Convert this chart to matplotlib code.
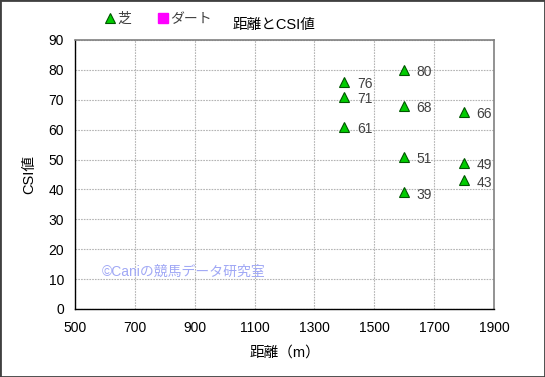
import matplotlib
matplotlib.use("Agg")
import matplotlib.pyplot as plt
from matplotlib.patches import Rectangle

plt.rcParams['font.family'] = ['Liberation Sans', 'Noto Sans CJK JP', 'DejaVu Sans']

turf_dist = [1400, 1400, 1400, 1600, 1600, 1600, 1600, 1800, 1800, 1800]
turf_csi = [76, 71, 61, 80, 68, 51, 39, 66, 49, 43]
dirt_dist = []
dirt_csi = []
xticks = [500, 700, 900, 1100, 1300, 1500, 1700, 1900]
yticks = list(range(0, 91, 10))

W, H = 545, 377
fig = plt.figure(figsize=(W / 100, H / 100), dpi=100)
l, r, t, b = 75, 494, 40, 309
ax = fig.add_axes([l / W, 1 - b / H, (r - l) / W, (b - t) / H])

ax.plot(turf_dist, turf_csi, linestyle='none', marker='^', markersize=7.5,
        markerfacecolor='#00cc00', markeredgecolor='#005500', markeredgewidth=0.8,
        label='芝', zorder=3)
ax.plot(dirt_dist, dirt_csi, linestyle='none', marker='s', markersize=7,
        markerfacecolor='#ff00ff', markeredgecolor='#ff00ff', label='ダート')

for x, y in zip(turf_dist, turf_csi):
    ax.annotate(str(y), (x, y), xytext=(9, -1.5), textcoords='offset points',
                va='center', ha='left', fontsize=10, color='#404040')

ax.set_xlim(500, 1900)
ax.set_ylim(0, 90)
ax.set_xticks(xticks)
ax.set_yticks(yticks)
ax.tick_params(length=0, labelsize=10, pad=8)
ax.tick_params(axis='x', pad=9)
ax.grid(True, color='#b4b4b4', linestyle=(0, (1.5, 1)), linewidth=0.8)
ax.set_axisbelow(True)
for s in ['left', 'bottom']:
    ax.spines[s].set_color('black')
    ax.spines[s].set_linewidth(1.0)
for s in ['top', 'right']:
    ax.spines[s].set_color('#808080')
    ax.spines[s].set_linewidth(1.2)

ax.set_xlabel('距離（m）', fontsize=10.5, labelpad=7)
ax.set_ylabel('CSI値', fontsize=10.5, labelpad=9)
fig.text(274 / W, 1 - 25 / H, '距離とCSI値', ha='center', va='center', fontsize=10.5)

ax.text(590, 12.4, '©Caniの競馬データ研究室', transform=ax.transData,
        fontsize=10, color='#a0a8f5', ha='left', va='center')

fig.legend(loc='center left', bbox_to_anchor=(92 / W, 1 - 19 / H), ncol=2, frameon=False,
           fontsize=10, handlelength=0.8, handletextpad=0.1, columnspacing=1.9,
           labelcolor='#404040')

fig.patches.append(Rectangle((0, 0), 1, 1, transform=fig.transFigure,
                             fill=False, edgecolor='#404040', linewidth=2))
fig.savefig('out.png', dpi=100)
